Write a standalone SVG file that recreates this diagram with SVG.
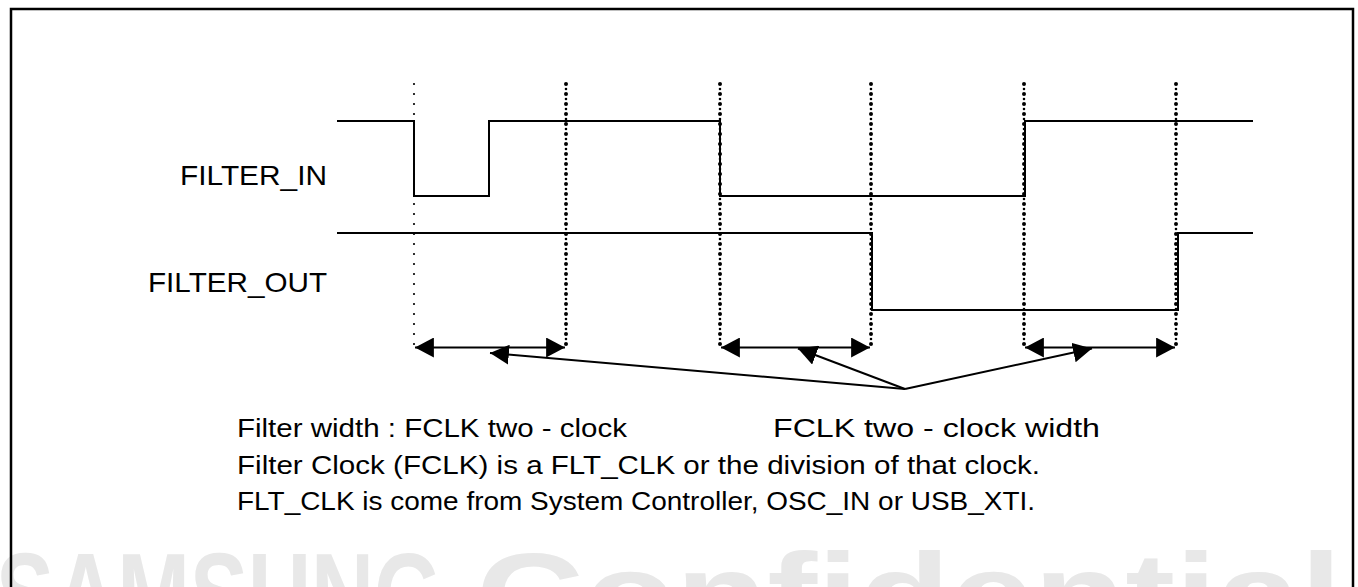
<svg xmlns="http://www.w3.org/2000/svg" width="1358" height="587" viewBox="0 0 1358 587">
<defs>
<style>
.frame{fill:none;stroke:#000;stroke-width:2.5}
.wave{fill:none;stroke:#000;stroke-width:2}
.dotthin{stroke:#000;stroke-width:2.2;stroke-linecap:round;stroke-dasharray:0 10}
.dotbig{stroke:#000;stroke-width:4;stroke-linecap:round;stroke-dasharray:0 10}
.dotsmall{stroke:#000;stroke-width:2.6;stroke-linecap:round;stroke-dasharray:0 10;stroke-dashoffset:5}
.dim{stroke:#000;stroke-width:2;fill:none}
.lbl{font-family:"Liberation Sans",Arial,sans-serif;fill:#000}
.wm{font-family:"Liberation Sans",Arial,sans-serif;font-weight:bold;fill:#e8e8e8}
</style>
<marker id="ah" markerUnits="userSpaceOnUse" markerWidth="20" markerHeight="20" viewBox="0 0 18 18" refX="17" refY="9" orient="auto-start-reverse">
<path d="M0,0 L17,9 L0,18 Z" fill="#000"/>
</marker>
</defs>
<rect width="1358" height="587" fill="#fff"/>
<g id="watermark">
<text class="wm" transform="translate(-4,636) scale(0.74,1)" x="0" y="0" font-size="118" textLength="602.7" lengthAdjust="spacingAndGlyphs">SAMSUNG</text>
<text class="wm" transform="translate(476,636) scale(1.33,1)" x="0" y="0" font-size="118" textLength="651" lengthAdjust="spacingAndGlyphs">Confidential</text>
</g>
<rect class="frame" x="11" y="9" width="1342" height="700"/>
<g id="guides">
<line class="dotthin" x1="414" y1="84" x2="414" y2="345"/>
<line class="dotbig" x1="566" y1="84" x2="566" y2="345"/>
<line class="dotsmall" x1="566" y1="84" x2="566" y2="345"/>
<line class="dotbig" x1="720" y1="84" x2="720" y2="345"/>
<line class="dotsmall" x1="720" y1="84" x2="720" y2="345"/>
<line class="dotbig" x1="871" y1="84" x2="871" y2="345"/>
<line class="dotsmall" x1="871" y1="84" x2="871" y2="345"/>
<line class="dotbig" x1="1024" y1="84" x2="1024" y2="345"/>
<line class="dotsmall" x1="1024" y1="84" x2="1024" y2="345"/>
<line class="dotbig" x1="1176" y1="84" x2="1176" y2="345"/>
<line class="dotsmall" x1="1176" y1="84" x2="1176" y2="345"/>
</g>
<g id="filter_in">
<text class="lbl" x="180" y="185" font-size="28" textLength="147" lengthAdjust="spacingAndGlyphs">FILTER_IN</text>
<polyline class="wave" points="337,121 414,121 414,196 489,196 489,121 720,121 720,196 1025,196 1025,121 1253,121"/>
</g>
<g id="filter_out">
<text class="lbl" x="148" y="292" font-size="28" textLength="179" lengthAdjust="spacingAndGlyphs">FILTER_OUT</text>
<polyline class="wave" points="337,233 872,233 872,310 1178,310 1178,233 1253,233"/>
</g>
<g id="connectors">
<line class="dim" x1="415" y1="347.5" x2="565" y2="347.5" marker-start="url(#ah)" marker-end="url(#ah)"/>
<line class="dim" x1="721" y1="347.5" x2="870" y2="347.5" marker-start="url(#ah)" marker-end="url(#ah)"/>
<line class="dim" x1="1025" y1="347.5" x2="1175" y2="347.5" marker-start="url(#ah)" marker-end="url(#ah)"/>
<line class="dim" x1="905" y1="389" x2="490" y2="353" marker-end="url(#ah)"/>
<line class="dim" x1="905" y1="389" x2="798" y2="348.5" marker-end="url(#ah)"/>
<line class="dim" x1="905" y1="389" x2="1092" y2="348.5" marker-end="url(#ah)"/>
</g>
<g id="notes">
<text class="lbl" x="237" y="437" font-size="25.5" textLength="390" lengthAdjust="spacingAndGlyphs">Filter width : FCLK two - clock</text>
<text class="lbl" x="773" y="437" font-size="25.5" textLength="327" lengthAdjust="spacingAndGlyphs">FCLK two - clock width</text>
<text class="lbl" x="237" y="474" font-size="25.5" textLength="803" lengthAdjust="spacingAndGlyphs">Filter Clock (FCLK) is a FLT_CLK or the division of that clock.</text>
<text class="lbl" x="237" y="510" font-size="25.5" textLength="798" lengthAdjust="spacingAndGlyphs">FLT_CLK is come from System Controller, OSC_IN or USB_XTI.</text>
</g>
</svg>
